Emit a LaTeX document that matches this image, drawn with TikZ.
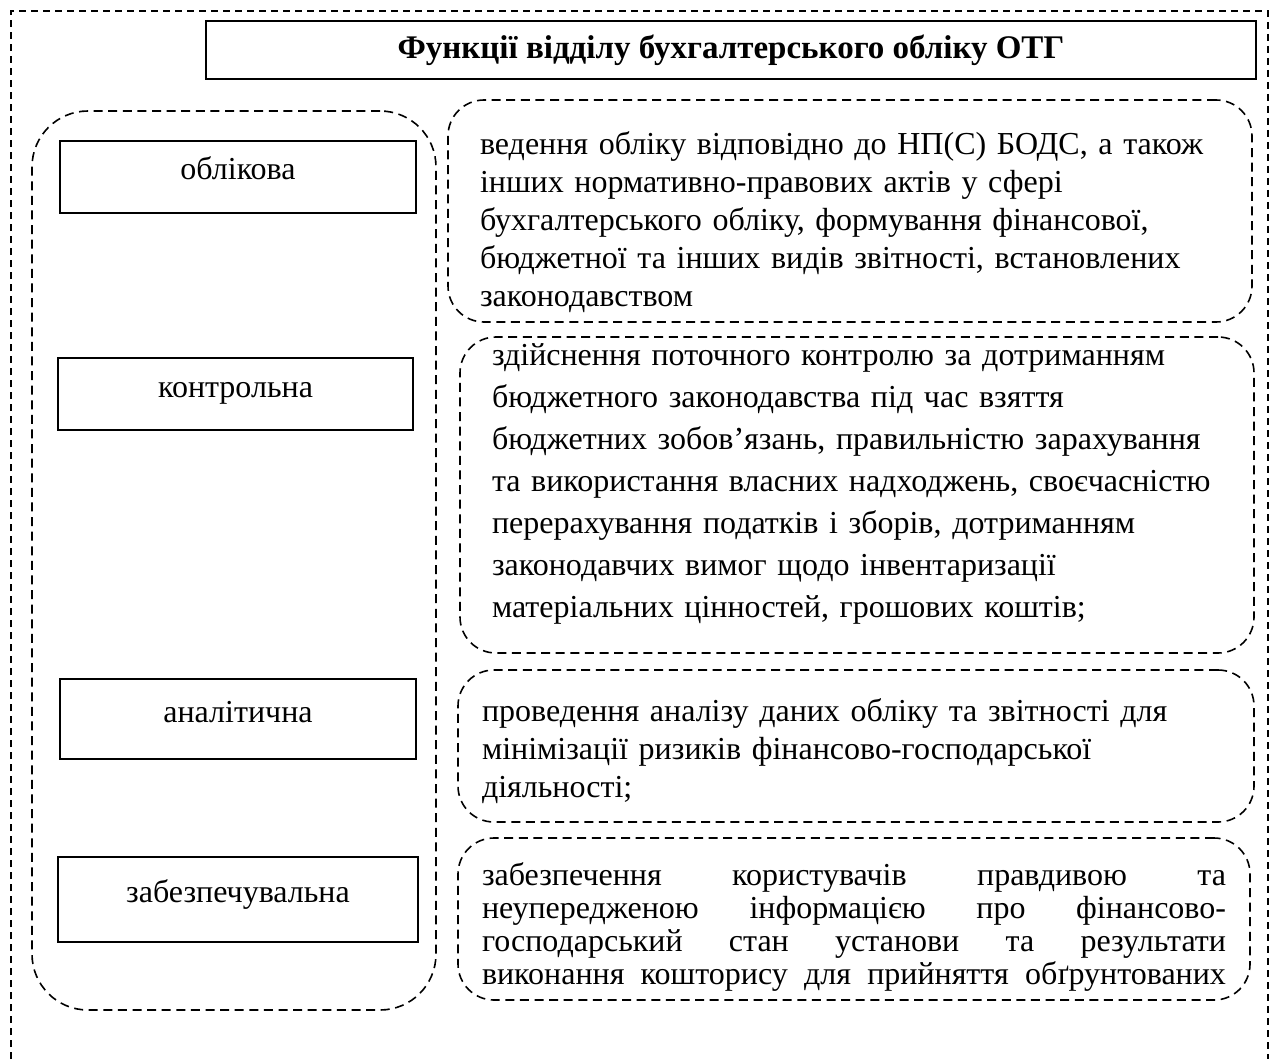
\documentclass[tikz,border=0pt]{standalone}
\usepackage{fontspec}
\setmainfont{Liberation Serif}
\newcommand{\fullline}[1]{\makebox[372pt][s]{\spaceskip=0pt\xspaceskip=0pt\relax #1}}
\newcommand{\padtop}[1]{\rule{0pt}{#1}}
\newcommand{\padbot}[1]{\rule[-#1]{0pt}{0pt}}

\begin{document}
\begin{tikzpicture}[x=0.5pt, y=-0.5pt,
  every node/.style={font=\fontsize{16}{19}\selectfont, inner sep=0pt},
  fnbox/.style={draw, line width=0.9pt, minimum width=178pt, minimum height=36pt,
    text height=11pt, text depth=8pt},
  taskbox/.style={draw, line width=0.8pt, dash pattern=on 4.5pt off 2.8pt,
    rounded corners=18pt, align=left, inner xsep=12pt}]

  \useasboundingbox (0,0) rectangle (1272,1059);

  %outer frame
  \draw[line width=0.7pt, dash pattern=on 3.5pt off 2.5pt]
    (11,1059) -- (11,11) -- (1268,11) -- (1268,1059);

  \node[draw, line width=1pt, minimum width=525pt, minimum height=29pt,
    font=\fontsize{16.5}{19}\selectfont\bfseries] (title) at (731,50)
    {Функції відділу бухгалтерського обліку ОТГ};

  %functions
  \node[draw, line width=0.8pt, dash pattern=on 4.5pt off 2.8pt, rounded corners=28pt,
    minimum width=202pt, minimum height=449.5pt] (funcs) at (234,560.5) {};

  \node[fnbox] (oblik) at (238,177) {облікова};
  \node[fnbox, minimum width=177.5pt] (kontrol) at (235.5,394) {контрольна};
  \node[fnbox, minimum height=40pt] (analit) at (238,719) {аналітична};
  \node[fnbox, minimum width=180pt, minimum height=42.5pt] (zabezp) at (238,899.5) {забезпечувальна};

  %tasks
  \node[taskbox, text width=370pt, inner xsep=16pt, minimum height=111pt] (t1) at (850,211)
    {\padtop{23pt}ведення обліку відповідно до НП(С) БОДС, а також\\
     інших нормативно-правових актів у сфері\\
     бухгалтерського обліку, формування фінансової,\\
     бюджетної та інших видів звітності, встановлених\\
     законодавством};
  \node[taskbox, text width=365pt, inner xsep=16pt, minimum height=158pt,
    font=\fontsize{16}{21}\selectfont] (t2) at (857,495)
    {здійснення поточного контролю за дотриманням\\
     бюджетного законодавства під час взяття\\
     бюджетних зобов’язань, правильністю зарахування\\
     та використання власних надходжень, своєчасністю\\
     перерахування податків і зборів, дотриманням\\
     законодавчих вимог щодо інвентаризації\\
     матеріальних цінностей, грошових коштів;\padbot{14pt}};
  \node[taskbox, text width=374pt, minimum height=76pt] (t3) at (856,746)
    {\padtop{17pt}проведення аналізу даних обліку та звітності для\\
     мінімізації ризиків фінансово-господарської\\
     діяльності;};
  \node[taskbox, text width=372pt, minimum height=81pt,
    font=\fontsize{16}{16.5}\selectfont] (t4) at (854,919)
    {\padtop{19pt}\fullline{забезпечення користувачів правдивою та}\\
     \fullline{неупередженою інформацією про фінансово-}\\
     \fullline{господарський стан установи та результати}\\
     \fullline{виконання кошторису для прийняття обґрунтованих}};
\end{tikzpicture}
\end{document}
